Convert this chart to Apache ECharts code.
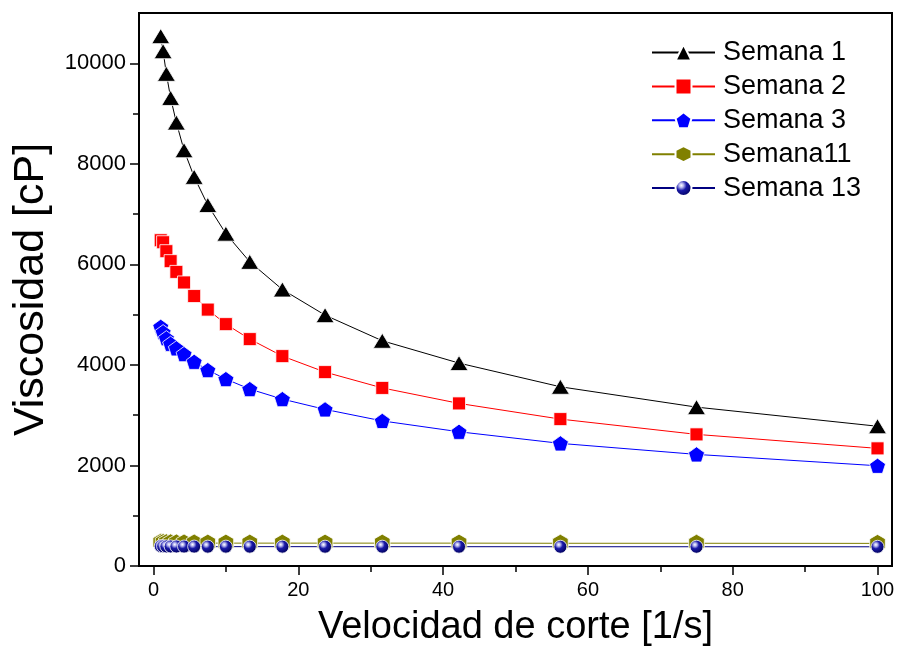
<!DOCTYPE html>
<html>
<head>
<meta charset="utf-8">
<script src="https://cdn.jsdelivr.net/npm/echarts@6/dist/echarts.min.js"></script>
<style>
  html, body { margin: 0; padding: 0; background: #fff; }
  #chart { width: 899px; height: 649px; }
</style>
</head>
<body>
<div id="chart"></div>
<script>
// Shear rate points (1/s)
const shearRate = [1, 1.33, 1.78, 2.37, 3.16, 4.22, 5.62, 7.5, 10, 13.3, 17.8, 23.7, 31.6, 42.2, 56.2, 75, 100];

// Viscosity (cP) per week
const semana1  = [10540, 10240, 9790, 9310, 8820, 8270, 7740, 7180, 6610, 6050, 5500, 4990, 4480, 4036, 3565, 3160, 2780];
const semana2  = [6480, 6440, 6262, 6064, 5850, 5640, 5370, 5100, 4811, 4513, 4175, 3857, 3542, 3234, 2922, 2618, 2340];
const semana3  = [4758, 4650, 4530, 4420, 4330, 4215, 4062, 3897, 3718, 3519, 3320, 3115, 2886, 2670, 2439, 2220, 1994];
const semana11 = [470, 465, 462, 460, 458, 457, 456, 455, 455, 455, 455, 455, 455, 455, 452, 452, 450];
const semana13 = [395, 392, 390, 389, 388, 387, 386, 385, 385, 385, 385, 384, 384, 384, 383, 383, 382];

const seriesNames = ['Semana 1', 'Semana 2', 'Semana 3', 'Semana11', 'Semana 13'];

// Axis ticks
const xMajorTicks = [0, 20, 40, 60, 80, 100];
const xMinorTicks = [10, 30, 50, 70, 90];
const yMajorTicks = [0, 2000, 4000, 6000, 8000, 10000];
const yMinorTicks = [1000, 3000, 5000, 7000, 9000];

const FONT = "'Liberation Sans', Arial, sans-serif";

const pentagon = 'path://M0,-100L95.1,-30.9L58.8,80.9L-58.8,80.9L-95.1,-30.9Z';
const hexagon = 'path://M0,-100L86.6,-50L86.6,50L0,100L-86.6,50L-86.6,-50Z';

// Shaded sphere fill for the Semana 13 markers
const ball = {
  type: 'radial', x: 0.38, y: 0.35, r: 0.65,
  colorStops: [
    { offset: 0, color: '#ffffff' },
    { offset: 0.18, color: '#b8b8f0' },
    { offset: 0.45, color: '#1a1aa8' },
    { offset: 1, color: '#00005a' }
  ]
};

function pairs(ys) {
  return shearRate.map((x, i) => [x, ys[i]]);
}

function makeSeries(name, ys, color, symbol, size, fill) {
  return {
    name: name,
    type: 'line',
    data: pairs(ys),
    symbol: symbol,
    symbolSize: size,
    symbolKeepAspect: true,
    showAllSymbol: true,
    lineStyle: { color: color, width: 1 },
    itemStyle: { color: fill || color, borderColor: '#ffffff', borderWidth: 0.8, opacity: 1 },
    emphasis: { disabled: true },
    animation: false,
    z: 3
  };
}

const chart = echarts.init(document.getElementById('chart'), null, { renderer: 'canvas' });

chart.setOption({
  backgroundColor: '#ffffff',
  animation: false,
  textStyle: { fontFamily: FONT },
  grid: {
    left: 139, right: 7, top: 13, bottom: 83,
    show: true, borderColor: '#000', borderWidth: 2,
    outerBoundsMode: 'none'
  },
  legend: {
    orient: 'vertical',
    left: 651, top: 39, padding: 0,
    itemWidth: 63, itemHeight: 20, itemGap: 6.9,
    data: seriesNames,
    textStyle: { fontSize: 27, color: '#000', fontFamily: FONT, lineHeight: 27, padding: [0, 0, 0, 3] },
    selectedMode: false
  },
  xAxis: [
    {
      type: 'value', min: -2, max: 102, position: 'bottom',
      name: 'Velocidad de corte [1/s]', nameLocation: 'middle', nameGap: 43,
      nameTextStyle: { fontSize: 38, color: '#000', fontFamily: FONT },
      axisLine: { show: true, onZero: false, lineStyle: { color: '#000', width: 2 } },
      axisTick: { show: true, customValues: xMajorTicks, length: 9, lineStyle: { color: '#000', width: 1.5 } },
      axisLabel: { show: true, customValues: xMajorTicks, fontSize: 20, color: '#000', margin: 14, fontFamily: FONT },
      splitLine: { show: false }
    },
    {
      type: 'value', min: -2, max: 102, position: 'bottom',
      axisLine: { show: false, onZero: false },
      axisTick: { show: true, customValues: xMinorTicks, length: 6, lineStyle: { color: '#000', width: 1.5 } },
      axisLabel: { show: false },
      splitLine: { show: false }
    }
  ],
  yAxis: [
    {
      type: 'value', min: 0, max: 11000, position: 'left',
      name: 'Viscosidad [cP]', nameLocation: 'middle', nameGap: 86,
      nameTextStyle: { fontSize: 43, color: '#000', fontFamily: FONT },
      axisLine: { show: true, onZero: false, lineStyle: { color: '#000', width: 2 } },
      axisTick: { show: true, customValues: yMajorTicks, length: 9, lineStyle: { color: '#000', width: 1.5 } },
      axisLabel: {
        show: true, customValues: yMajorTicks, fontSize: 22, color: '#000', margin: 13, fontFamily: FONT,
        formatter: (v) => String(v)
      },
      splitLine: { show: false }
    },
    {
      type: 'value', min: 0, max: 11000, position: 'left',
      axisLine: { show: false, onZero: false },
      axisTick: { show: true, customValues: yMinorTicks, length: 6, lineStyle: { color: '#000', width: 1.5 } },
      axisLabel: { show: false },
      splitLine: { show: false }
    }
  ],
  series: [
    makeSeries('Semana 1', semana1, '#000000', 'triangle', [18, 15]),
    makeSeries('Semana 2', semana2, '#ff0000', 'rect', 13),
    makeSeries('Semana 3', semana3, '#0000ff', pentagon, 16),
    makeSeries('Semana11', semana11, '#808000', hexagon, 18),
    makeSeries('Semana 13', semana13, '#000080', 'circle', 13, ball)
  ]
});
</script>
</body>
</html>
